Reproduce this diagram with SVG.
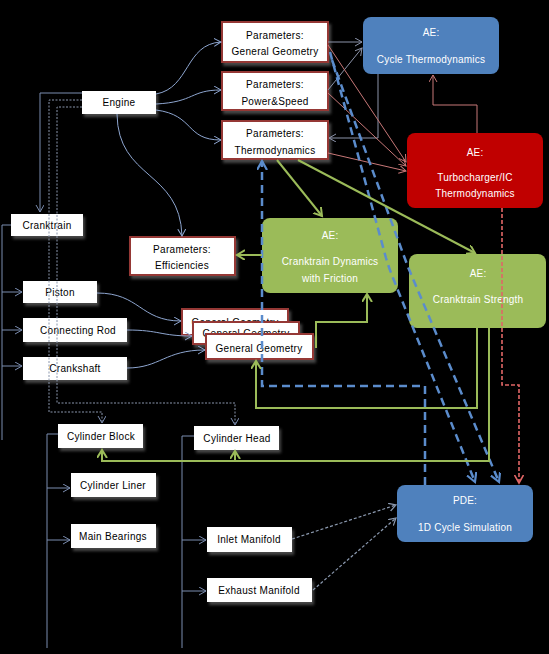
<svg xmlns="http://www.w3.org/2000/svg" width="549" height="654" viewBox="0 0 549 654">
<defs>
<style>
.bx{fill:#fff;filter:url(#sh)}
.pb{fill:#fff;stroke:#953735;stroke-width:2;filter:url(#sh)}
.ae{stroke:none}
.t{font-family:"Liberation Sans",Arial,sans-serif;font-size:10px;fill:#000;text-anchor:middle;letter-spacing:0.3px}
.tw{font-family:"Liberation Sans",Arial,sans-serif;font-size:10px;fill:#fff;text-anchor:middle;letter-spacing:0.2px}
.c{fill:none;stroke-width:1}
.bg{stroke:#8ea6d0}
.tr{stroke:#7b8db0}
.dot{stroke:#8a96ad;stroke-dasharray:2 1.5}
.gy{stroke:#8c94aa}
.rd{stroke:#c87878}
.rdd{stroke:#e06666;stroke-width:1.6;stroke-dasharray:4 2}
.bld{stroke:#5b8ccc;stroke-width:2.5;stroke-dasharray:8 5}
.gr{stroke:#9bbb59;stroke-width:2}
.gyd{stroke:#8c9ab0;stroke-width:1.2;stroke-dasharray:3 2}
</style>
<filter id="sh" x="-10%" y="-10%" width="130%" height="150%">
<feDropShadow dx="2" dy="3" stdDeviation="1.5" flood-color="#777" flood-opacity="0.6"/>
</filter>
<marker id="aBG" markerUnits="userSpaceOnUse" markerWidth="9" markerHeight="9" refX="7" refY="4" orient="auto"><path d="M0,0 L7,4 L0,8" fill="none" stroke="#8ea6d0" stroke-width="1"/></marker>
<marker id="aTR" markerUnits="userSpaceOnUse" markerWidth="9" markerHeight="9" refX="7" refY="4" orient="auto"><path d="M0,0 L7,4 L0,8" fill="none" stroke="#7b8db0" stroke-width="1"/></marker>
<marker id="aGY" markerUnits="userSpaceOnUse" markerWidth="9" markerHeight="9" refX="7" refY="4" orient="auto"><path d="M0,0 L7,4 L0,8" fill="none" stroke="#8c94aa" stroke-width="1"/></marker>
<marker id="aRD" markerUnits="userSpaceOnUse" markerWidth="9" markerHeight="9" refX="7" refY="4" orient="auto"><path d="M0,0 L7,4 L0,8" fill="none" stroke="#c87878" stroke-width="1"/></marker>
<marker id="aRDD" markerUnits="userSpaceOnUse" markerWidth="10" markerHeight="10" refX="8" refY="4.5" orient="auto"><path d="M0,0 L8,4.5 L0,9" fill="none" stroke="#e06666" stroke-width="1.6"/></marker>
<marker id="aBL" markerUnits="userSpaceOnUse" markerWidth="12" markerHeight="12" refX="9" refY="5" orient="auto"><path d="M0,0 L9,5 L0,10" fill="none" stroke="#5b8ccc" stroke-width="2.2"/></marker>
<marker id="aGR" markerUnits="userSpaceOnUse" markerWidth="12" markerHeight="12" refX="8" refY="5" orient="auto"><path d="M0,0 L8,5 L0,10" fill="none" stroke="#9bbb59" stroke-width="2"/></marker>
<marker id="aGYD" markerUnits="userSpaceOnUse" markerWidth="9" markerHeight="9" refX="7" refY="4" orient="auto"><path d="M0,0 L7,4 L0,8" fill="none" stroke="#8c9ab0" stroke-width="1.2"/></marker>
</defs>
<rect x="0" y="0" width="549" height="654" fill="#000"/>

<g id="nodes">
<g id="engine"><rect class="bx" x="82" y="91" width="74" height="23"/><text class="t" x="119" y="106">Engine</text></g>
<g id="p-geom"><rect class="pb" x="222" y="22" width="106" height="40"/><text class="t" x="275" y="38.5">Parameters:</text><text class="t" x="275" y="54.5">General Geometry</text></g>
<g id="p-power"><rect class="pb" x="222" y="72" width="106" height="38"/><text class="t" x="275" y="87.5">Parameters:</text><text class="t" x="275" y="104.5">Power&amp;Speed</text></g>
<g id="p-thermo"><rect class="pb" x="222" y="121" width="106" height="38"/><text class="t" x="275" y="136.5">Parameters:</text><text class="t" x="275" y="153.5">Thermodynamics</text></g>
<g id="ae-cycle"><rect class="ae" x="363" y="17" width="136" height="57" rx="8" fill="#4f81bd"/><text class="tw" x="431" y="35.5">AE:</text><text class="tw" x="431" y="62.5">Cycle Thermodynamics</text></g>
<g id="ae-turbo"><rect class="ae" x="407" y="133" width="136" height="75" rx="8" fill="#c00000"/><text class="tw" x="475" y="155.5">AE:</text><text class="tw" x="475" y="180.5">Turbocharger/IC</text><text class="tw" x="475" y="196.5">Thermodynamics</text></g>
<g id="cranktrain"><rect class="bx" x="11" y="214" width="72" height="22"/><text class="t" x="47" y="228.5">Cranktrain</text></g>
<g id="p-eff"><rect class="pb" x="130" y="237" width="105" height="38"/><text class="t" x="182" y="252.5">Parameters:</text><text class="t" x="182" y="268.5">Efficiencies</text></g>
<g id="ae-dyn"><rect class="ae" x="262" y="218" width="136" height="75" rx="8" fill="#9bbb59"/><text class="tw" x="330" y="238.5">AE:</text><text class="tw" x="330" y="264.5">Cranktrain Dynamics</text><text class="tw" x="330" y="281.5">with Friction</text></g>
<g id="ae-strength"><rect class="ae" x="409" y="254" width="137" height="74" rx="8" fill="#9bbb59"/><text class="tw" x="478" y="276.5">AE:</text><text class="tw" x="478" y="302.5">Cranktrain Strength</text></g>
<g id="piston"><rect class="bx" x="23" y="281" width="74" height="22"/><text class="t" x="60" y="295.5">Piston</text></g>
<g id="conrod"><rect class="bx" x="23" y="318" width="104" height="24"/><text class="t" x="78" y="333.5">Connecting Rod</text></g>
<g id="crankshaft"><rect class="bx" x="23" y="357" width="104" height="23"/><text class="t" x="75" y="372">Crankshaft</text></g>
<g id="gg1"><rect class="pb" x="182" y="309" width="106" height="26"/><text class="t" x="235" y="325.5">General Geometry</text></g>
<g id="gg2"><rect class="pb" x="193" y="322" width="106" height="22"/><text class="t" x="246" y="337">General Geometry</text></g>
<g id="gg3"><rect class="pb" x="206" y="334" width="107" height="25"/><text class="t" x="259" y="351.5">General Geometry</text></g>
<g id="cyl-block"><rect class="bx" x="58" y="424" width="85" height="24"/><text class="t" x="101" y="439.5">Cylinder Block</text></g>
<g id="cyl-head"><rect class="bx" x="194" y="426" width="85" height="24"/><text class="t" x="237" y="441.5">Cylinder Head</text></g>
<g id="cyl-liner"><rect class="bx" x="71" y="473" width="85" height="24"/><text class="t" x="113" y="488.5">Cylinder Liner</text></g>
<g id="main-bearings"><rect class="bx" x="71" y="524" width="85" height="24"/><text class="t" x="113" y="539.5">Main Bearings</text></g>
<g id="inlet"><rect class="bx" x="207" y="527" width="85" height="25"/><text class="t" x="249" y="543">Inlet Manifold</text></g>
<g id="exhaust"><rect class="bx" x="207" y="578" width="105" height="24"/><text class="t" x="259" y="593.5">Exhaust Manifold</text></g>
<g id="pde"><rect class="ae" x="397" y="485" width="136" height="57" rx="8" fill="#4f81bd"/><text class="tw" x="465" y="503.5">PDE:</text><text class="tw" x="465" y="530.5">1D Cycle Simulation</text></g>
</g>

<g id="connectors">
<path class="c tr" d="M82,93 H40 V212" marker-end="url(#aTR)"/>
<path class="c dot" d="M82,100 H49 V412 H102 V423" marker-end="url(#aTR)"/>
<path class="c dot" d="M82,107 H57 V403 H235 V425" marker-end="url(#aTR)"/>
<path class="c tr" d="M11,225 H2 V440"/>
<path class="c tr" d="M2,292 H22" marker-end="url(#aTR)"/>
<path class="c tr" d="M2,330 H22" marker-end="url(#aTR)"/>
<path class="c tr" d="M2,366 H22" marker-end="url(#aTR)"/>
<path class="c tr" d="M58,434 H47 V648"/>
<path class="c tr" d="M47,488 H70" marker-end="url(#aTR)"/>
<path class="c tr" d="M47,540 H70" marker-end="url(#aTR)"/>
<path class="c tr" d="M194,436 H182 V648"/>
<path class="c tr" d="M182,540 H206" marker-end="url(#aTR)"/>
<path class="c tr" d="M182,591 H206" marker-end="url(#aTR)"/>

<path class="c bg" d="M156,94 C190,88 185,44 221,42" marker-end="url(#aBG)"/>
<path class="c bg" d="M156,104 C195,102 190,90 221,90" marker-end="url(#aBG)"/>
<path class="c bg" d="M156,110 C195,115 185,140 221,140" marker-end="url(#aBG)"/>
<path class="c bg" d="M117,114 C118,180 180,170 182,236" marker-end="url(#aBG)"/>
<path class="c bg" d="M97,293 C140,293 140,321 181,321" marker-end="url(#aBG)"/>
<path class="c bg" d="M127,330 C160,330 160,336 192,336" marker-end="url(#aBG)"/>
<path class="c bg" d="M127,368 C160,368 165,350 205,350" marker-end="url(#aBG)"/>

<path class="c gy" d="M328,42 H362" marker-end="url(#aGY)"/>
<path class="c gy" d="M328,90 L362,48" marker-end="url(#aGY)"/>
<path class="c gy" d="M378,74 V138 H329" marker-end="url(#aGY)"/>

<path class="c rd" d="M328,45 L406,162" marker-end="url(#aRD)"/>
<path class="c rd" d="M328,93 L406,166" marker-end="url(#aRD)"/>
<path class="c rd" d="M328,153 L406,171" marker-end="url(#aRD)"/>
<path class="c rd" d="M477,133 V105 H433 V75" marker-end="url(#aRD)"/>

<path class="c rdd" d="M502,208 V385 H519 V483" marker-end="url(#aRDD)"/>

<path class="c bld" d="M330,52 L386,258 Q389,268 393,278 L475,482" marker-end="url(#aBL)"/>
<path class="c bld" d="M332,60 L408,267 L499,482" marker-end="url(#aBL)"/>
<path class="c bld" d="M425,485 V386 H262 V161" marker-end="url(#aBL)"/>

<path class="c gr" d="M277,160 L322,216" marker-end="url(#aGR)"/>
<path class="c gr" d="M298,160 L475,253" marker-end="url(#aGR)"/>
<path class="c gr" d="M262,255 H237" marker-end="url(#aGR)"/>
<path class="c gr" d="M316,348 V322 H367 V294" marker-end="url(#aGR)"/>
<path class="c gr" d="M477,328 V408 H256 V361" marker-end="url(#aGR)"/>
<path class="c gr" d="M489,328 V461 H102 V450" marker-end="url(#aGR)"/>
<path class="c gr" d="M235,461 V451" marker-end="url(#aGR)"/>

<path class="c gyd" d="M292,539 L396,505" marker-end="url(#aGYD)"/>
<path class="c gyd" d="M313,590 L396,518" marker-end="url(#aGYD)"/>
</g>
</svg>
